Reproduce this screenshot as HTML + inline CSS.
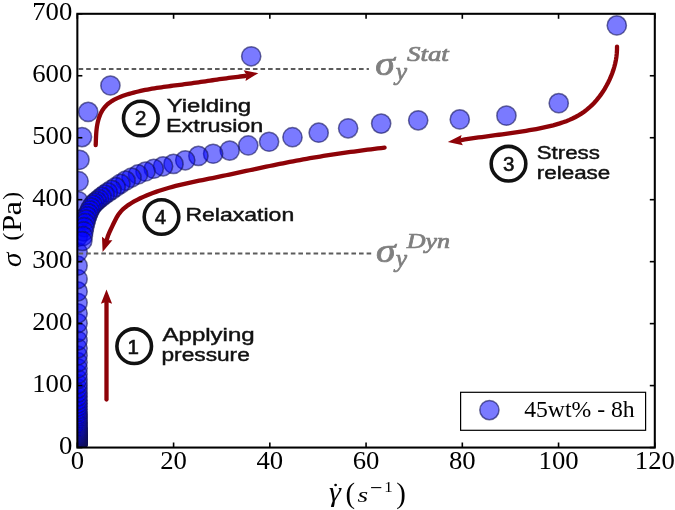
<!DOCTYPE html>
<html><head><meta charset="utf-8"><style>
html,body{margin:0;padding:0;background:#fff;}
body{width:675px;height:510px;overflow:hidden;position:relative;}
svg{position:absolute;left:0;top:0;}
.tk text{font-family:"Liberation Serif",serif;font-size:24.3px;fill:#000;}
.ann{font-family:"Liberation Sans",sans-serif;fill:#111;}
.ann text{stroke:#111;stroke-width:0.45;}
.ann text.dg{stroke-width:0.6;}
svg text{opacity:0.995;}
.sh{fill:none;stroke:#8e0308;stroke-width:4.3;stroke-linecap:round;}
</style></head><body>
<svg width="675" height="510" viewBox="0 0 675 510">
<defs><filter id="bl" x="-5%" y="-5%" width="110%" height="110%"><feGaussianBlur stdDeviation="0.4"/></filter><clipPath id="ax"><rect x="77.35" y="13.8" width="577.45" height="433.75"/></clipPath></defs>
<g clip-path="url(#ax)"><g filter="url(#bl)" fill="rgba(0,0,255,0.52)" stroke="rgba(15,15,85,0.6)" stroke-width="1.5">
<circle cx="77.60" cy="442.98" r="9.6"/>
<circle cx="77.60" cy="442.87" r="9.6"/>
<circle cx="77.60" cy="442.76" r="9.6"/>
<circle cx="77.60" cy="442.63" r="9.6"/>
<circle cx="77.60" cy="442.49" r="9.6"/>
<circle cx="77.60" cy="442.34" r="9.6"/>
<circle cx="77.60" cy="442.18" r="9.6"/>
<circle cx="77.60" cy="442.01" r="9.6"/>
<circle cx="77.60" cy="441.83" r="9.6"/>
<circle cx="77.60" cy="441.62" r="9.6"/>
<circle cx="77.60" cy="441.41" r="9.6"/>
<circle cx="77.60" cy="441.17" r="9.6"/>
<circle cx="77.60" cy="440.92" r="9.6"/>
<circle cx="77.60" cy="440.64" r="9.6"/>
<circle cx="77.60" cy="440.34" r="9.6"/>
<circle cx="77.60" cy="440.02" r="9.6"/>
<circle cx="77.60" cy="439.68" r="9.6"/>
<circle cx="77.60" cy="439.30" r="9.6"/>
<circle cx="77.60" cy="438.89" r="9.6"/>
<circle cx="77.60" cy="438.46" r="9.6"/>
<circle cx="77.60" cy="437.98" r="9.6"/>
<circle cx="77.60" cy="437.47" r="9.6"/>
<circle cx="77.60" cy="436.92" r="9.6"/>
<circle cx="77.60" cy="436.32" r="9.6"/>
<circle cx="77.60" cy="435.67" r="9.6"/>
<circle cx="77.60" cy="434.98" r="9.6"/>
<circle cx="77.60" cy="434.22" r="9.6"/>
<circle cx="77.60" cy="433.41" r="9.6"/>
<circle cx="77.60" cy="432.52" r="9.6"/>
<circle cx="77.60" cy="431.57" r="9.6"/>
<circle cx="77.60" cy="430.54" r="9.6"/>
<circle cx="77.60" cy="429.43" r="9.6"/>
<circle cx="77.60" cy="428.23" r="9.6"/>
<circle cx="77.60" cy="426.93" r="9.6"/>
<circle cx="77.60" cy="425.52" r="9.6"/>
<circle cx="77.60" cy="424.01" r="9.6"/>
<circle cx="77.60" cy="422.37" r="9.6"/>
<circle cx="77.60" cy="420.59" r="9.6"/>
<circle cx="77.60" cy="418.68" r="9.6"/>
<circle cx="77.60" cy="416.61" r="9.6"/>
<circle cx="77.60" cy="414.37" r="9.6"/>
<circle cx="77.60" cy="411.95" r="9.6"/>
<circle cx="77.60" cy="409.34" r="9.6"/>
<circle cx="77.60" cy="406.51" r="9.6"/>
<circle cx="77.60" cy="403.46" r="9.6"/>
<circle cx="77.60" cy="400.16" r="9.6"/>
<circle cx="77.60" cy="396.60" r="9.6"/>
<circle cx="77.60" cy="392.75" r="9.6"/>
<circle cx="77.60" cy="388.58" r="9.6"/>
<circle cx="77.60" cy="384.08" r="9.6"/>
<circle cx="77.60" cy="379.22" r="9.6"/>
<circle cx="77.60" cy="373.96" r="9.6"/>
<circle cx="77.60" cy="368.28" r="9.6"/>
<circle cx="77.60" cy="362.14" r="9.6"/>
<circle cx="77.60" cy="355.51" r="9.6"/>
<circle cx="77.60" cy="348.34" r="9.6"/>
<circle cx="77.60" cy="340.59" r="9.6"/>
<circle cx="77.60" cy="332.22" r="9.6"/>
<circle cx="77.60" cy="323.17" r="9.6"/>
<circle cx="77.60" cy="313.38" r="9.6"/>
<circle cx="77.60" cy="302.81" r="9.6"/>
<circle cx="77.60" cy="291.39" r="9.6"/>
<circle cx="77.60" cy="279.04" r="9.6"/>
<circle cx="77.60" cy="265.70" r="9.6"/>
<circle cx="77.70" cy="252.30" r="9.6"/>
<circle cx="77.80" cy="236.80" r="9.6"/>
<circle cx="78.00" cy="219.80" r="9.6"/>
<circle cx="78.20" cy="201.00" r="9.6"/>
<circle cx="78.60" cy="181.20" r="9.6"/>
<circle cx="79.50" cy="159.80" r="9.6"/>
<circle cx="82.00" cy="137.10" r="9.6"/>
<circle cx="88.20" cy="111.90" r="9.6"/>
<circle cx="110.40" cy="85.50" r="9.6"/>
<circle cx="251.20" cy="56.30" r="9.6"/>
<circle cx="616.80" cy="25.40" r="9.6"/>
<circle cx="558.75" cy="103.14" r="9.6"/>
<circle cx="506.41" cy="115.63" r="9.6"/>
<circle cx="459.77" cy="119.40" r="9.6"/>
<circle cx="418.20" cy="120.33" r="9.6"/>
<circle cx="381.15" cy="123.61" r="9.6"/>
<circle cx="348.13" cy="128.31" r="9.6"/>
<circle cx="318.70" cy="132.70" r="9.6"/>
<circle cx="292.47" cy="137.22" r="9.6"/>
<circle cx="269.09" cy="141.74" r="9.6"/>
<circle cx="248.25" cy="145.45" r="9.6"/>
<circle cx="229.68" cy="150.58" r="9.6"/>
<circle cx="213.13" cy="153.74" r="9.6"/>
<circle cx="198.38" cy="155.90" r="9.6"/>
<circle cx="185.24" cy="160.29" r="9.6"/>
<circle cx="173.52" cy="163.88" r="9.6"/>
<circle cx="163.08" cy="166.29" r="9.6"/>
<circle cx="153.77" cy="168.77" r="9.6"/>
<circle cx="145.48" cy="171.52" r="9.6"/>
<circle cx="138.09" cy="174.45" r="9.6"/>
<circle cx="131.50" cy="177.54" r="9.6"/>
<circle cx="125.62" cy="180.64" r="9.6"/>
<circle cx="120.39" cy="183.84" r="9.6"/>
<circle cx="115.73" cy="187.00" r="9.6"/>
<circle cx="111.57" cy="189.84" r="9.6"/>
<circle cx="107.86" cy="192.31" r="9.6"/>
<circle cx="104.56" cy="194.62" r="9.6"/>
<circle cx="101.62" cy="196.89" r="9.6"/>
<circle cx="99.00" cy="199.05" r="9.6"/>
<circle cx="96.66" cy="200.99" r="9.6"/>
<circle cx="94.58" cy="202.81" r="9.6"/>
<circle cx="92.72" cy="204.95" r="9.6"/>
<circle cx="91.06" cy="207.50" r="9.6"/>
<circle cx="89.59" cy="210.33" r="9.6"/>
<circle cx="88.27" cy="213.31" r="9.6"/>
<circle cx="87.10" cy="216.38" r="9.6"/>
<circle cx="86.06" cy="219.64" r="9.6"/>
<circle cx="85.13" cy="223.18" r="9.6"/>
<circle cx="84.30" cy="227.07" r="9.6"/>
<circle cx="83.56" cy="231.36" r="9.6"/>
<circle cx="82.90" cy="236.02" r="9.6"/>
<circle cx="82.31" cy="241.02" r="9.6"/>
</g></g>
<g stroke="#5c5c5c" stroke-width="2" stroke-dasharray="4.6 2.979">
<line x1="78.6" y1="68.9" x2="368.9" y2="68.9"/>
<line x1="78.6" y1="253.5" x2="371.9" y2="253.5"/>
</g>
<g fill="#8e0308">
<path class="sh" d="M106.5 399.5 L106.5 300"/>
<path d="M106.50 289.40L112.10 303.80L106.50 301.80L100.90 303.80Z"/>
<path class="sh" d="M95.69 145.14 L95.80 142.85 L95.89 140.55 L95.97 138.24 L96.08 135.93 L96.21 133.61 L96.39 131.28 L96.63 128.94 L96.94 126.59 L97.35 124.23 L97.85 121.86 L98.47 119.50 L99.21 117.17 L100.07 114.90 L101.07 112.72 L102.20 110.65 L103.48 108.71 L104.91 106.93 L106.47 105.28 L108.14 103.77 L109.93 102.37 L111.82 101.09 L113.80 99.92 L115.85 98.84 L117.97 97.85 L120.14 96.93 L122.36 96.08 L124.61 95.30 L126.88 94.57 L129.16 93.88 L131.44 93.22 L133.73 92.60 L136.02 92.02 L138.31 91.47 L140.61 90.94 L142.90 90.44 L145.20 89.97 L147.50 89.53 L149.81 89.10 L152.11 88.70 L154.42 88.32 L156.73 87.95 L159.04 87.60 L161.35 87.26 L163.67 86.93 L165.98 86.61 L168.30 86.30 L170.62 86.00 L172.94 85.70 L175.26 85.40 L177.58 85.11 L179.90 84.81 L182.23 84.51 L184.55 84.21 L186.87 83.90 L189.20 83.58 L191.52 83.26 L193.85 82.94 L196.17 82.61 L198.50 82.28 L200.82 81.94 L203.15 81.60 L205.48 81.26 L207.80 80.92 L210.13 80.59 L212.46 80.25 L214.78 79.91 L217.11 79.58 L219.43 79.24 L221.76 78.92 L224.09 78.59 L226.41 78.27 L228.74 77.96 L231.06 77.66 L233.39 77.36 L235.71 77.07 L238.03 76.78 L240.36 76.51 L242.68 76.25 L245.00 75.99"/>
<path d="M258.30 73.20L245.53 80.92L246.57 75.25L243.67 70.28Z"/>
<path class="sh" d="M617.02 46.59 L616.99 49.99 L616.79 53.38 L616.42 56.75 L615.88 60.11 L615.19 63.44 L614.34 66.75 L613.35 70.02 L612.22 73.27 L610.96 76.47 L609.57 79.64 L608.05 82.76 L606.42 85.83 L604.68 88.84 L602.82 91.78 L600.85 94.65 L598.77 97.42 L596.59 100.10 L594.30 102.67 L591.90 105.13 L589.41 107.46 L586.82 109.65 L584.13 111.71 L581.35 113.61 L578.48 115.37 L575.53 117.00 L572.51 118.50 L569.42 119.88 L566.27 121.15 L563.06 122.32 L559.81 123.40 L556.51 124.39 L553.18 125.31 L549.83 126.15 L546.45 126.94 L543.05 127.67 L539.65 128.36 L536.25 129.02 L532.85 129.64 L529.45 130.24 L526.05 130.81 L522.65 131.36 L519.26 131.88 L515.86 132.39 L512.47 132.89 L509.08 133.37 L505.68 133.84 L502.29 134.30 L498.90 134.75 L495.50 135.20 L492.11 135.65 L488.72 136.10 L485.32 136.55 L481.92 137.01 L478.53 137.48 L475.13 137.96 L471.73 138.45 L468.32 138.95 L464.92 139.47 L461.51 140.02"/>
<path d="M447.80 142.00L461.56 135.04L460.22 140.45L462.84 145.36Z"/>
<path class="sh" d="M384.60 147.64 L381.20 148.06 L377.80 148.47 L374.40 148.89 L371.00 149.32 L367.60 149.74 L364.20 150.18 L360.80 150.62 L357.40 151.06 L354.00 151.51 L350.61 151.97 L347.21 152.44 L343.82 152.91 L340.42 153.39 L337.03 153.89 L333.64 154.39 L330.25 154.90 L326.86 155.43 L323.48 155.96 L320.10 156.51 L316.72 157.07 L313.34 157.65 L309.96 158.23 L306.59 158.83 L303.22 159.43 L299.85 160.05 L296.48 160.68 L293.11 161.32 L289.75 161.96 L286.38 162.62 L283.02 163.28 L279.66 163.95 L276.30 164.63 L272.94 165.31 L269.58 166.00 L266.23 166.70 L262.87 167.40 L259.52 168.11 L256.17 168.82 L252.81 169.53 L249.46 170.25 L246.11 170.97 L242.76 171.69 L239.40 172.41 L236.05 173.12 L232.70 173.84 L229.35 174.56 L225.99 175.27 L222.64 175.97 L219.29 176.67 L215.93 177.36 L212.58 178.05 L209.22 178.72 L205.86 179.39 L202.51 180.05 L199.15 180.72 L195.79 181.40 L192.44 182.09 L189.09 182.80 L185.74 183.53 L182.40 184.29 L179.06 185.10 L175.73 185.94 L172.40 186.83 L169.09 187.75 L165.79 188.72 L162.51 189.72 L159.25 190.77 L156.02 191.86 L152.81 193.01 L149.62 194.22 L146.46 195.50 L143.33 196.86 L140.22 198.30 L137.15 199.84 L134.11 201.48 L131.11 203.23 L128.20 205.11 L125.43 207.16 L122.85 209.39 L120.51 211.84 L118.46 214.52 L116.67 217.41 L115.06 220.44 L113.56 223.54 L112.09 226.66 L110.60 229.75 L109.18 232.85 L107.90 236.02 L106.87 239.29"/>
<path d="M102.60 252.00L101.99 236.64L106.56 240.29L112.41 240.16Z"/>
</g>
<g class="ann">
<circle cx="134.2" cy="346.2" r="17.3" fill="none" stroke="#111" stroke-width="3.6"/>
<circle cx="140.8" cy="118.5" r="17.3" fill="none" stroke="#111" stroke-width="3.6"/>
<circle cx="508.5" cy="163.7" r="17.3" fill="none" stroke="#111" stroke-width="3.6"/>
<circle cx="161.5" cy="217.0" r="17.3" fill="none" stroke="#111" stroke-width="3.6"/>
<text class="dg" font-size="20.5" transform="translate(133.3,353.6)" text-anchor="middle">1</text>
<text class="dg" font-size="20.5" transform="translate(140.8,124.9)" text-anchor="middle">2</text>
<text class="dg" font-size="20.5" transform="translate(508.7,171.4)" text-anchor="middle">3</text>
<text class="dg" font-size="20.5" transform="translate(160.4,224.2)" text-anchor="middle">4</text>
<text font-size="19" transform="translate(166.7,111.5) scale(1.261,1)">Yielding</text>
<text font-size="19" transform="translate(165.9,131.5) scale(1.232,1)">Extrusion</text>
<text font-size="19" transform="translate(162.5,341.1) scale(1.265,1)">Applying</text>
<text font-size="19" transform="translate(161.5,361.3) scale(1.195,1)">pressure</text>
<text font-size="19" transform="translate(536.7,158.5) scale(1.174,1)">Stress</text>
<text font-size="19" transform="translate(536.8,178.8) scale(1.18,1)">release</text>
<text font-size="19" transform="translate(185.4,221.4) scale(1.212,1)">Relaxation</text>
</g>
<g fill="#7f7f7f" stroke="#7f7f7f" stroke-width="0.7" font-family="Liberation Serif,serif" font-style="italic">
<text font-size="33" transform="translate(375.3,75) scale(1.2,1)">σ</text>
<text font-size="25.5" transform="translate(395.8,80)">y</text>
<text font-size="21" transform="translate(407,61.4) scale(1.28,1)">Stat</text>
<text font-size="33" transform="translate(375.9,262) scale(1.2,1)">σ</text>
<text font-size="25.5" transform="translate(395.8,266.8)">y</text>
<text font-size="21" transform="translate(406.7,248.3) scale(1.24,1)">Dyn</text>
</g>
<rect x="77.35" y="13.8" width="577.45" height="433.75" fill="none" stroke="#000" stroke-width="2.05"/>
<g stroke="#000" stroke-width="1.6">
<line x1="77.35" y1="447.5" x2="77.35" y2="442.5"/>
<line x1="77.35" y1="13.8" x2="77.35" y2="18.8"/>
<line x1="173.59" y1="447.5" x2="173.59" y2="442.5"/>
<line x1="173.59" y1="13.8" x2="173.59" y2="18.8"/>
<line x1="269.83" y1="447.5" x2="269.83" y2="442.5"/>
<line x1="269.83" y1="13.8" x2="269.83" y2="18.8"/>
<line x1="366.07" y1="447.5" x2="366.07" y2="442.5"/>
<line x1="366.07" y1="13.8" x2="366.07" y2="18.8"/>
<line x1="462.32" y1="447.5" x2="462.32" y2="442.5"/>
<line x1="462.32" y1="13.8" x2="462.32" y2="18.8"/>
<line x1="558.56" y1="447.5" x2="558.56" y2="442.5"/>
<line x1="558.56" y1="13.8" x2="558.56" y2="18.8"/>
<line x1="654.80" y1="447.5" x2="654.80" y2="442.5"/>
<line x1="654.80" y1="13.8" x2="654.80" y2="18.8"/>
<line x1="77.35" y1="447.55" x2="82.35" y2="447.55"/>
<line x1="654.8" y1="447.55" x2="649.8" y2="447.55"/>
<line x1="77.35" y1="385.59" x2="82.35" y2="385.59"/>
<line x1="654.8" y1="385.59" x2="649.8" y2="385.59"/>
<line x1="77.35" y1="323.62" x2="82.35" y2="323.62"/>
<line x1="654.8" y1="323.62" x2="649.8" y2="323.62"/>
<line x1="77.35" y1="261.66" x2="82.35" y2="261.66"/>
<line x1="654.8" y1="261.66" x2="649.8" y2="261.66"/>
<line x1="77.35" y1="199.69" x2="82.35" y2="199.69"/>
<line x1="654.8" y1="199.69" x2="649.8" y2="199.69"/>
<line x1="77.35" y1="137.73" x2="82.35" y2="137.73"/>
<line x1="654.8" y1="137.73" x2="649.8" y2="137.73"/>
<line x1="77.35" y1="75.76" x2="82.35" y2="75.76"/>
<line x1="654.8" y1="75.76" x2="649.8" y2="75.76"/>
<line x1="77.35" y1="13.80" x2="82.35" y2="13.80"/>
<line x1="654.8" y1="13.80" x2="649.8" y2="13.80"/>
</g>
<g class="tk">
<text transform="translate(77.35,468.5) scale(1.100,1)" text-anchor="middle">0</text>
<text transform="translate(173.59,468.5) scale(1.100,1)" text-anchor="middle">20</text>
<text transform="translate(269.83,468.5) scale(1.100,1)" text-anchor="middle">40</text>
<text transform="translate(366.07,468.5) scale(1.100,1)" text-anchor="middle">60</text>
<text transform="translate(462.32,468.5) scale(1.100,1)" text-anchor="middle">80</text>
<text transform="translate(558.56,468.5) scale(1.100,1)" text-anchor="middle">100</text>
<text transform="translate(654.80,468.5) scale(1.100,1)" text-anchor="middle">120</text>
<text transform="translate(72.3,453.55) scale(1.100,1)" text-anchor="end">0</text>
<text transform="translate(72.3,391.59) scale(1.100,1)" text-anchor="end">100</text>
<text transform="translate(72.3,329.62) scale(1.100,1)" text-anchor="end">200</text>
<text transform="translate(72.3,267.66) scale(1.100,1)" text-anchor="end">300</text>
<text transform="translate(72.3,205.69) scale(1.100,1)" text-anchor="end">400</text>
<text transform="translate(72.3,143.73) scale(1.100,1)" text-anchor="end">500</text>
<text transform="translate(72.3,81.76) scale(1.100,1)" text-anchor="end">600</text>
<text transform="translate(72.3,19.80) scale(1.100,1)" text-anchor="end">700</text>
</g>
<!-- legend -->
<rect x="460.6" y="392.3" width="185" height="38" fill="#fff" stroke="#000" stroke-width="1.2"/>
<circle cx="489.4" cy="410.1" r="9.6" fill="rgba(0,0,255,0.52)" stroke="rgba(15,15,85,0.6)" stroke-width="1.5"/>
<text font-family="Liberation Serif,serif" font-size="22.1" transform="translate(524.2,417.2) scale(1.072,1)">45wt% - 8h</text>
<!-- axis labels -->
<g font-family="Liberation Serif,serif" fill="#000">
<text font-size="26.4" font-style="italic" transform="translate(329,501.4) scale(1.15,1)">γ</text>
<circle cx="335.6" cy="485" r="1.35"/>
<text font-size="28.8" transform="translate(345.6,502.5)">(</text>
<text font-size="21" font-style="italic" transform="translate(357.5,501.9) scale(1.3,1)">s</text>
<text font-size="22" transform="translate(369.9,495)">−</text>
<text font-size="14" transform="translate(384.2,492.2) scale(1.2,1)">1</text>
<text font-size="28.8" transform="translate(396.2,502.5)">)</text>
<g transform="rotate(-90)">
<text font-size="26.5" font-style="italic" transform="translate(-267.1,21.1) scale(1.1,1)">σ</text>
<text font-size="23.5" transform="translate(-240.6,18.8)">(</text>
<text font-size="26.5" transform="translate(-231.8,21.1) scale(1.15,1)">P</text>
<text font-size="26.5" transform="translate(-215.4,21.1) scale(1.23,1)">a</text>
<text font-size="23.5" transform="translate(-199.8,18.8)">)</text>
</g>
</g>
</svg>
</body></html>
